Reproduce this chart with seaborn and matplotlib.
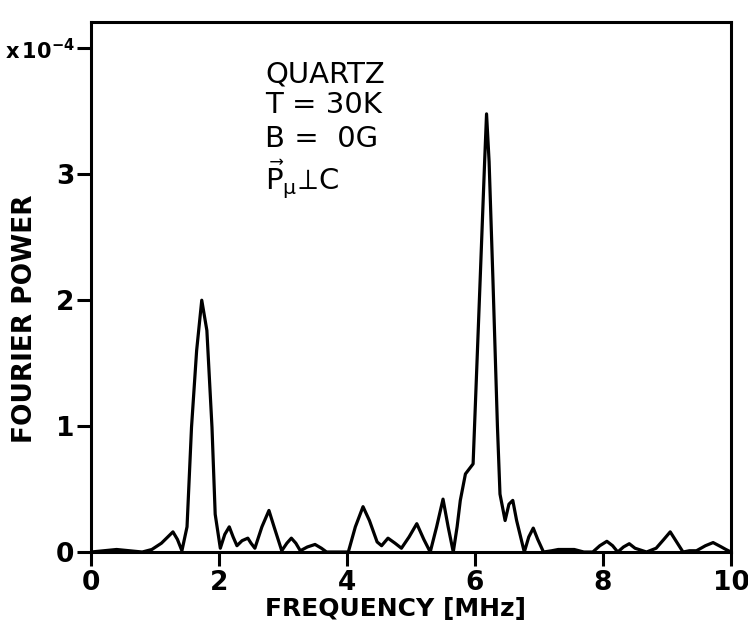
import numpy as np
import pandas as pd
import matplotlib
matplotlib.use('Agg')
import matplotlib.pyplot as plt
import seaborn as sns

# values
freq = [0.0, 0.2, 0.4, 0.6, 0.8, 0.95, 1.1, 1.2, 1.28, 1.35, 1.42, 1.5, 1.57, 1.65, 1.73,
        1.81, 1.89, 1.94, 2.02, 2.09, 2.16, 2.22, 2.28, 2.36, 2.45, 2.5, 2.56, 2.67, 2.78,
        2.86, 2.98, 3.06, 3.13, 3.2, 3.27, 3.38, 3.5, 3.6, 3.68, 3.85, 4.02, 4.13, 4.25,
        4.35, 4.47, 4.54, 4.64, 4.75, 4.85, 4.97, 5.09, 5.2, 5.3, 5.4, 5.5, 5.58, 5.66,
        5.72, 5.77, 5.85, 5.97, 6.08, 6.15, 6.18, 6.22, 6.28, 6.35, 6.39, 6.47, 6.53, 6.59,
        6.65, 6.77, 6.84, 6.91, 6.98, 7.07, 7.2, 7.3, 7.45, 7.55, 7.7, 7.84, 7.95, 8.06,
        8.15, 8.23, 8.32, 8.41, 8.5, 8.68, 8.83, 8.95, 9.05, 9.15, 9.25, 9.35, 9.46, 9.6,
        9.72, 9.85, 9.92, 10.0]
power = [0.0, 0.01, 0.02, 0.01, 0.0, 0.02, 0.07, 0.12, 0.16, 0.1, 0.01, 0.2, 0.99, 1.6, 2.0,
         1.76, 0.99, 0.3, 0.03, 0.14, 0.2, 0.12, 0.05, 0.09, 0.11, 0.07, 0.03, 0.2, 0.33,
         0.2, 0.01, 0.07, 0.11, 0.07, 0.01, 0.04, 0.06, 0.03, 0.0, 0.0, 0.0, 0.2, 0.36,
         0.25, 0.08, 0.05, 0.11, 0.07, 0.03, 0.12, 0.225, 0.1, 0.0, 0.2, 0.42, 0.2, 0.0,
         0.2, 0.41, 0.62, 0.7, 2.16, 3.1, 3.48, 3.1, 2.16, 1.0, 0.46, 0.25, 0.38, 0.41,
         0.25, 0.0, 0.12, 0.19, 0.1, 0.0, 0.01, 0.02, 0.02, 0.02, 0.0, 0.0, 0.05, 0.085,
         0.05, 0.0, 0.04, 0.066, 0.03, 0.0, 0.03, 0.1, 0.16, 0.08, 0.0, 0.01, 0.01, 0.05,
         0.075, 0.04, 0.02, 0.0]

xticks = [0, 2, 4, 6, 8, 10]
yticks = [0, 1, 2, 3, 4]
ytick_labels = ['0', '1', '2', '3', r'$\mathregular{\mathbf{x}\,10^{-4}}$']
info_lines = ['QUARTZ', 'T = 30K', 'B =  0G', r'$\mathregular{\vec{P}_{μ}\!\perp\! C}$']

df = pd.DataFrame({'freq': freq, 'power': power})

sns.set_theme(style='ticks')
plt.rcParams['font.family'] = ['DejaVu Sans']
plt.rcParams['mathtext.fontset'] = 'dejavusans'

fig = plt.figure(figsize=(7.48, 6.26), dpi=100)
ax = fig.add_axes([0.1217, 0.1182, 0.8556, 0.8467])

sns.lineplot(data=df, x='freq', y='power', ax=ax, color='black', linewidth=2.3, sort=False)

ax.set_xlim(0, 10)
ax.set_ylim(0, 4.21)
ax.set_xticks(xticks)
ax.set_xticklabels([str(t) for t in xticks], fontweight='bold')
ax.set_yticks(yticks)
ax.set_yticklabels(ytick_labels, fontweight='bold')
ax.tick_params(axis='both', direction='out', length=10, width=2.2, labelsize=19,
               color='black', labelcolor='black')
ax.tick_params(axis='x', pad=3)
ax.tick_params(axis='y', pad=2)
ax.get_yticklabels()[-1].set_fontsize(15)

for s in ax.spines.values():
    s.set_visible(True)
    s.set_linewidth(2.2)
    s.set_color('black')

ax.set_xlabel('FREQUENCY [MHz]', fontsize=18, fontweight='bold', color='black')
ax.set_ylabel('FOURIER POWER', fontsize=19, fontweight='bold', color='black')
ax.xaxis.set_label_coords(0.475, -0.085)
ax.yaxis.set_label_coords(-0.083, 0.44)

# sample / condition block
baselines = [0.885, 0.828, 0.764, 0.683]
for txt, yb in zip(info_lines, baselines):
    ax.text(0.272, yb, txt, transform=ax.transAxes, fontsize=21, va='baseline',
            ha='left', color='black')

fig.savefig('out.png', dpi=100)
